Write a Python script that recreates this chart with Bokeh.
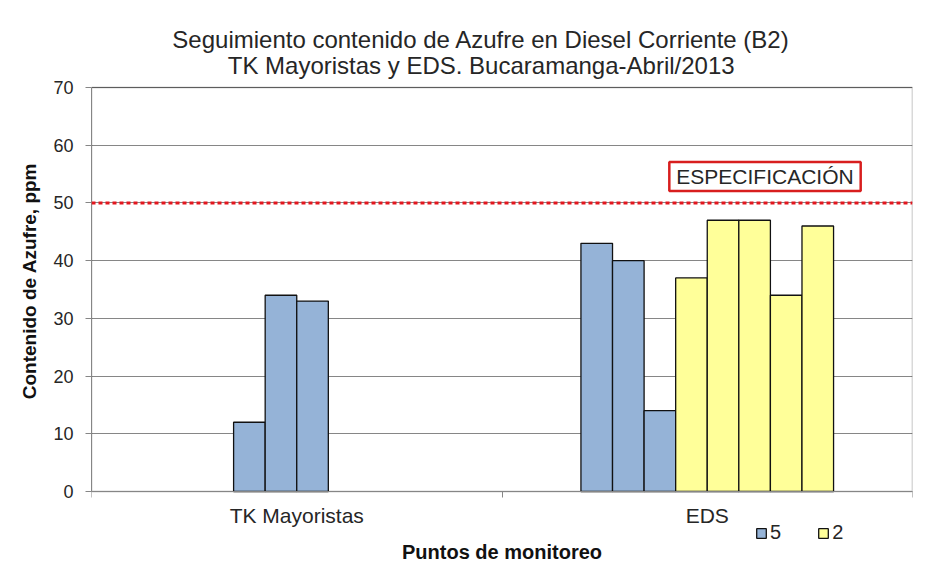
from bokeh.plotting import figure
from bokeh.models import (ColumnDataSource, Range1d, FixedTicker, Span, Label,
                          Legend, LegendItem, BoxAnnotation)
from bokeh.embed import file_html
from bokeh.resources import INLINE

# ---- data ----
categories = ["TK Mayoristas", "EDS"]
# 8 bar slots per category (None = no bar)
tk_values = [None, None, 12, 34, 33, None, None, None]
tk_groups = [None, None, "5", "5", "5", None, None, None]
eds_values = [43, 40, 14, 37, 47, 47, 34, 46]
eds_groups = ["5", "5", "5", "2", "2", "2", "2", "2"]
spec_limit = 50
spec_label = "ESPECIFICACIÓN"
y_ticks = [0, 10, 20, 30, 40, 50, 60, 70]
y_max = 70
legend_groups = ["5", "2"]
group_colors = {"5": "#95B3D7", "2": "#FFFF99"}
title_lines = ["Seguimiento  contenido de Azufre en Diesel Corriente (B2)",
               "TK Mayoristas  y EDS. Bucaramanga-Abril/2013"]

n_slots = 8
gap_slots = 5.0
unit = 1.0 / (n_slots + gap_slots)

cat_values = [tk_values, eds_values]
cat_groups = [tk_groups, eds_groups]

sources = {g: dict(x=[], top=[]) for g in legend_groups}
for ci, (vals, grps) in enumerate(zip(cat_values, cat_groups)):
    for si, (v, g) in enumerate(zip(vals, grps)):
        if v is None:
            continue
        sources[g]["x"].append(ci + (gap_slots / 2 + si + 0.5) * unit)
        sources[g]["top"].append(v)

FONT = "Liberation Sans"
TXT = "#262626"

# ---- layout (pixels) ----
W, H = 932, 561
plot_left, plot_right = 91, 912          # plot area, horizontally
plot_top, plot_bottom = 87, 491          # plot area (0..70), vertically
px_per_unit = (plot_bottom - plot_top) / y_max
px_per_cat = (plot_right - plot_left) / len(categories)
# the drawing frame covers the whole canvas height, so titles, axis labels and
# legend can live inside it; the value axis itself is bounded to 0..70
y_lo = -(H - plot_bottom) / px_per_unit
y_hi = y_max + plot_top / px_per_unit


def dx(px):
    return (px - plot_left) / px_per_cat


def dy(py):
    return (plot_bottom - py) / px_per_unit


p = figure(width=W, height=H, output_backend="svg", toolbar_location=None,
           x_range=Range1d(0, len(categories)), y_range=Range1d(y_lo, y_hi),
           min_border_left=plot_left, min_border_right=W - plot_right,
           min_border_top=0, min_border_bottom=0)
p.background_fill_color = "white"
p.border_fill_color = "white"
p.outline_line_color = None

# plot-area border (black)
p.add_layout(BoxAnnotation(bottom=0, top=y_max, fill_alpha=0, line_color="black",
                           line_width=1.5, level="underlay"))

renderers = {}
for g in legend_groups:
    renderers[g] = p.vbar(x="x", top="top", width=unit, bottom=0,
                          source=ColumnDataSource(sources[g]),
                          fill_color=group_colors[g], line_color="#111111", line_width=1.3)

# spec line + label
p.add_layout(Span(location=spec_limit, dimension="width", line_color="#E3161E",
                  line_width=3, line_dash="4 3"))
p.add_layout(Label(x=dx(764.5), y=dy(176), text=spec_label, text_align="center",
                   text_baseline="middle", text_font=FONT, text_font_size="21px",
                   text_color=TXT, border_line_color="#D81E1E", border_line_width=2.5,
                   padding=(7, 3), background_fill_color="white"))

# y axis
p.yaxis.ticker = FixedTicker(ticks=y_ticks)
p.yaxis.bounds = (0, y_max)
p.yaxis.major_label_text_font = FONT
p.yaxis.major_label_text_font_size = "18px"
p.yaxis.major_label_text_color = TXT
p.yaxis.major_label_standoff = 12
p.yaxis.axis_line_color = "#868686"
p.yaxis.major_tick_line_color = "#868686"
p.yaxis.major_tick_out = 6
p.yaxis.major_tick_in = 0
p.yaxis.minor_tick_line_color = None
p.yaxis.axis_label = "Contenido de Azufre, ppm"
p.yaxis.axis_label_text_font = FONT
p.yaxis.axis_label_text_font_style = "bold"
p.yaxis.axis_label_text_font_size = "19px"
p.yaxis.axis_label_text_color = "#111111"
p.yaxis.axis_label_standoff = 10

# x axis sits at y = 0
centers = [i + 0.5 for i in range(len(categories))]
p.xaxis.fixed_location = 0
p.xaxis.ticker = FixedTicker(ticks=centers, minor_ticks=list(range(len(categories) + 1)))
p.xaxis.major_label_overrides = {c: name for c, name in zip(centers, categories)}
p.xaxis.major_tick_line_color = None
p.xaxis.major_tick_out = 6
p.xaxis.minor_tick_line_color = "#868686"
p.xaxis.minor_tick_out = 6
p.xaxis.minor_tick_in = 0
p.xaxis.axis_line_color = "#868686"
p.xaxis.major_label_text_font = FONT
p.xaxis.major_label_text_font_size = "21px"
p.xaxis.major_label_text_color = TXT
p.xaxis.major_label_standoff = 6
p.xaxis.axis_label = "Puntos de monitoreo"
p.xaxis.axis_label_text_font = FONT
p.xaxis.axis_label_text_font_style = "bold"
p.xaxis.axis_label_text_font_size = "20px"
p.xaxis.axis_label_text_color = "#111111"
p.xaxis.axis_label_standoff = 11

p.xgrid.grid_line_color = None
p.ygrid.grid_line_color = "#868686"
p.ygrid.grid_line_width = 1

# two-line title, each line centred
for txt, base in zip(title_lines, [39, 65]):
    p.add_layout(Label(x=dx(484), y=dy(base), text=txt, text_align="center",
                       text_baseline="alphabetic", text_font=FONT,
                       text_font_size="24px", text_color=TXT))

legend = Legend(items=[LegendItem(label=g, renderers=[renderers[g]]) for g in legend_groups],
                orientation="horizontal", location=(664, 17),
                label_text_font=FONT, label_text_font_size="20px",
                label_text_color=TXT, glyph_width=12, glyph_height=12,
                label_width=11, spacing=36, label_standoff=3, border_line_color=None,
                background_fill_alpha=0, padding=0, margin=0)
p.add_layout(legend, "center")

open("out.html", "w").write(file_html(p, INLINE))
